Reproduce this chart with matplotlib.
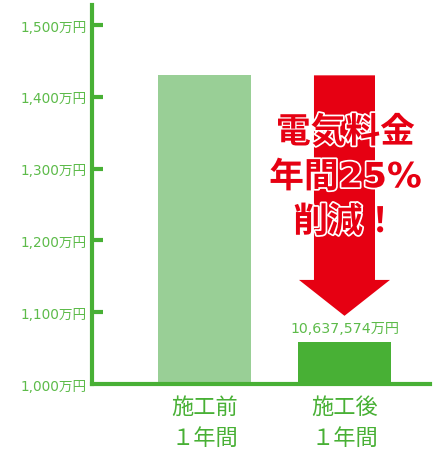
import matplotlib
matplotlib.use("Agg")
from matplotlib import pyplot as plt
from matplotlib.patches import FancyArrow
import matplotlib.patheffects as pe

plt.rcParams['font.family'] = ['Noto Sans CJK JP', 'DejaVu Sans']

categories = ["施工前\n１年間", "施工後\n１年間"]
values = [1430, 1058]
bar_colors = ["#99cf96", "#48b035"]
value_label = "10,637,574万円"
yticks = [1000, 1100, 1200, 1300, 1400, 1500]
ytick_labels = ["1,000万円", "1,100万円", "1,200万円", "1,300万円", "1,400万円", "1,500万円"]
callout = "電気料金\n年間25%\n削減！"

GREEN = "#48b035"
LABEL_GREEN = "#5dbb4a"
RED = "#e60012"
NUM_FONT = ['DejaVu Sans', 'Noto Sans CJK JP']

fig = plt.figure(figsize=(4.4, 4.52), dpi=100)
ax = fig.add_axes([92 / 440, 67 / 452, 338 / 440, 379 / 452])

x = range(len(values))
ax.bar(x, values, width=0.664, color=bar_colors, bottom=0, zorder=2)
ax.set_xlim(-0.804, 1.611)
ax.set_ylim(1000, 1528)

for s in ["top", "right"]:
    ax.spines[s].set_visible(False)
for s in ["left", "bottom"]:
    ax.spines[s].set_color(GREEN)
    ax.spines[s].set_linewidth(3)
    ax.spines[s].set_zorder(3)

ax.set_yticks(yticks)
ax.set_yticklabels(ytick_labels, fontsize=9.8, color=LABEL_GREEN, family=NUM_FONT)
ax.tick_params(axis="y", direction="out", length=0, pad=4)
for yt in yticks[1:]:
    ax.plot([0, 0.033], [yt, yt], transform=ax.get_yaxis_transform(), color=GREEN, lw=3,
            solid_capstyle="butt", clip_on=False, zorder=3)

ax.set_xticks(list(x))
ax.set_xticklabels(categories, fontsize=16, color=GREEN, linespacing=1.45)
ax.tick_params(axis="x", length=0, pad=8)

# red arrow from the "before" level down to just above the "after" bar
tip = values[1] + 37
ax.add_patch(FancyArrow(1, values[0], 0, tip - values[0], width=0.436, head_width=0.65,
                        head_length=50, length_includes_head=True, color=RED, lw=0, zorder=4))

ax.text(1.007, 1288, callout, ha="center", va="center", fontsize=25, fontweight="bold",
        color=RED, linespacing=1.4, zorder=5, family=NUM_FONT,
        path_effects=[pe.withStroke(linewidth=2.5, foreground="white")])

ax.text(1, values[1] + 10, value_label, ha="center", va="bottom", fontsize=10.2,
        color=LABEL_GREEN, family=NUM_FONT, zorder=5)

fig.savefig("out.png", dpi=100)
